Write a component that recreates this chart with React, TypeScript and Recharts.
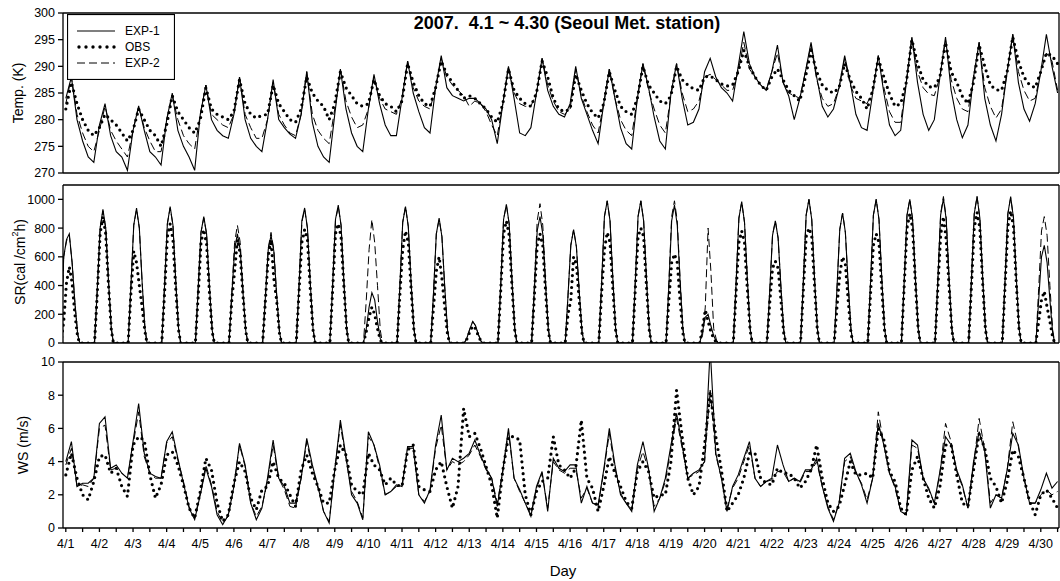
import React from "react";
import { LineChart, Line, XAxis, YAxis, ReferenceLine, Legend } from "recharts";

const FONT = '"Liberation Sans", Arial, Helvetica, sans-serif';

const DAYS = [
  "4/1", "4/2", "4/3", "4/4", "4/5", "4/6", "4/7", "4/8", "4/9", "4/10",
  "4/11", "4/12", "4/13", "4/14", "4/15", "4/16", "4/17", "4/18", "4/19", "4/20",
  "4/21", "4/22", "4/23", "4/24", "4/25", "4/26", "4/27", "4/28", "4/29", "4/30",
];
// sample hours inside each day (hours after the day label)
const DAY_HOURS = [0, 4, 8, 12, 16, 20];
const SR_HOURS = [-3.5, -1.5, 0.5, 2.5, 4.5, 6.5, 8.5, 10];

// Temperature (K)
const tempExp1 = [
  [284, 288, 280, 276, 273, 272], [279, 283, 277, 274, 273, 270.5], [278, 282.6, 278, 274, 273, 271.5],
  [280, 285, 278, 275, 273, 270.5], [281, 286.5, 280, 278, 277, 276.5], [281, 288, 280, 276.5, 275, 274],
  [280, 287.5, 280, 278.5, 277.3, 276.5], [281, 289, 279.5, 275, 273, 272], [281, 289.5, 282, 277.5, 275, 274],
  [282, 288.5, 283, 279, 277, 277], [284, 291, 285, 281.5, 278.5, 277.5], [286, 292, 286, 284.5, 284, 283.5],
  [284, 284, 283, 282, 280, 275.5], [283, 290, 284, 277.5, 277, 278.5], [285, 291.5, 285.5, 282.5, 281, 280.5],
  [283, 290, 284, 281, 278, 275.5], [283, 289.5, 284, 278.5, 275.5, 274.5], [284, 290.5, 286, 280.5, 276, 274.5],
  [285, 290.5, 284, 279, 279.5, 282], [289, 291.5, 288, 286, 285, 283.5], [290, 296.5, 290.5, 288, 286.5, 285.5],
  [289, 294, 287, 284.5, 280, 284], [289, 294.5, 288, 282.5, 280.5, 282], [286, 292, 287, 281, 278.5, 278],
  [285, 292, 285, 279, 277, 278], [287, 295.5, 287, 281, 278, 280], [288, 295.5, 285.5, 280, 276.6, 279],
  [288, 294.5, 284, 279, 276, 281], [289, 296, 287, 282, 279.7, 283], [289, 296, 290, 285],
];
const tempObs = [
  [282, 287, 283, 280, 278, 277], [278.5, 281, 280, 279, 277.5, 276], [278, 282, 280, 278, 277, 275],
  [279, 284.5, 281.5, 280, 278.5, 277.5], [280, 286, 282, 281, 280.5, 280], [281.5, 287.5, 283, 281, 280.3, 280.8],
  [281, 286.5, 283, 281.5, 280, 279.5], [282, 288, 285, 283.5, 282.5, 280], [283, 289, 286, 284.5, 283, 282.5],
  [283, 287.5, 284.5, 283, 282.5, 281.5], [283.5, 290.5, 287, 284.5, 283, 282.5], [286, 291, 288.5, 287, 285.5, 284],
  [284.5, 284, 283, 282, 280.5, 279.5], [283, 289.5, 285.5, 284, 283, 282.5], [285, 291, 288, 284, 282, 281.5],
  [282, 288.5, 285.5, 283, 281.3, 280.3], [283, 289, 285.5, 282.5, 281.5, 281], [284, 290, 286.5, 285, 283.5, 283],
  [284.5, 290, 287.5, 286.5, 285.8, 285.5], [288, 288.2, 287.5, 286.7, 286.3, 286.5], [289, 293, 290, 288, 286.5, 285.5],
  [288, 289.5, 287.5, 285.5, 284.5, 283.5], [288, 293, 289, 286.5, 285.5, 285], [286, 290.5, 287.5, 285.3, 284, 282],
  [285.5, 291.5, 288, 284.8, 282.5, 283], [287, 295, 290.5, 287.5, 286.2, 286], [288, 294.5, 289, 287, 284.4, 283],
  [287, 294, 290, 286.5, 285.6, 285.5], [289, 295.5, 291, 288, 286.5, 286], [289, 292.5, 292, 290.5],
];
const tempExp2 = [
  [283, 288, 281, 277.5, 275, 274], [278, 282.5, 278, 276, 274.5, 273], [278, 282.5, 278.5, 276, 274, 274],
  [280, 284.5, 280, 277, 275.5, 274.5], [281, 286.5, 281, 280, 279, 278.5], [281, 288, 281, 278.5, 276.5, 276.5],
  [280, 287, 281, 279, 277.5, 277], [281, 289, 281, 278, 276.5, 275.5], [282, 289.5, 283.5, 280.5, 278.5, 279],
  [282, 288, 284, 282, 281.5, 281], [284, 291, 286, 283.5, 282.5, 282], [286, 291.5, 288, 286.5, 285.5, 284.5],
  [282.5, 283.5, 283, 281.5, 279, 277], [283, 290, 285, 283, 282.5, 282.5], [285, 291.5, 286.5, 283.5, 281.5, 281],
  [282, 289.5, 284.5, 281.5, 279, 277.5], [283, 289.5, 284, 280, 278, 277], [284, 290.5, 285.5, 282, 279, 277.5],
  [284.5, 290.5, 285, 281.5, 282, 283.5], [288, 288.5, 287.5, 286.5, 285.5, 285.5], [289, 294.5, 289.5, 288, 286.5, 285.5],
  [289, 292.5, 287, 285, 284.5, 284], [289, 294, 287.5, 284, 282.5, 283], [286, 291.5, 286.5, 284, 283.5, 283],
  [285.5, 292, 286, 281.5, 279.5, 279.5], [287, 295.5, 289, 286, 284.8, 284.5], [288, 295, 287.5, 284, 282, 281.5],
  [288, 294.5, 286, 282.5, 280.3, 282], [289, 296, 289, 285.5, 283.5, 284], [289, 292.5, 291, 285.5],
];

// Solar radiation (cal/cm2h)
const srExp1 = [
  [0, 600, 720, 760, 560, 280, 60, 0], [0, 380, 800, 930, 800, 430, 100, 0], [0, 400, 820, 940, 800, 420, 100, 0],
  [0, 400, 830, 950, 820, 430, 100, 0], [0, 380, 770, 880, 760, 400, 90, 0], [0, 330, 650, 760, 650, 350, 80, 0],
  [0, 320, 650, 750, 640, 340, 80, 0], [0, 400, 850, 940, 800, 420, 100, 0], [0, 410, 860, 960, 820, 430, 100, 0],
  [0, 100, 250, 350, 300, 150, 30, 0], [0, 400, 840, 950, 810, 420, 100, 0], [0, 350, 760, 870, 740, 390, 90, 0],
  [0, 40, 100, 150, 120, 60, 10, 0], [0, 410, 860, 965, 830, 440, 100, 0], [0, 370, 780, 880, 760, 400, 90, 0],
  [0, 330, 680, 790, 670, 360, 80, 0], [0, 420, 880, 990, 850, 450, 100, 0], [0, 420, 880, 990, 850, 450, 100, 0],
  [0, 400, 850, 960, 820, 430, 100, 0], [0, 80, 180, 200, 120, 50, 10, 0], [0, 420, 870, 985, 840, 450, 100, 0],
  [0, 360, 750, 850, 730, 390, 90, 0], [0, 430, 890, 1000, 860, 450, 100, 0], [0, 380, 790, 905, 770, 410, 95, 0],
  [0, 430, 890, 1000, 860, 450, 100, 0], [0, 430, 890, 1000, 860, 450, 100, 0], [0, 430, 890, 1005, 860, 450, 100, 0],
  [0, 440, 900, 1020, 870, 460, 100, 0], [0, 440, 900, 1020, 870, 460, 100, 0], [0, 300, 600, 680, 560, 300, 70, 0],
];
const srObs = [
  [0, 150, 420, 530, 420, 200, 40, 0], [0, 350, 760, 880, 760, 400, 90, 0], [0, 350, 640, 560, 400, 250, 80, 0],
  [0, 350, 740, 830, 720, 380, 90, 0], [0, 330, 700, 790, 690, 360, 80, 0], [0, 300, 500, 720, 620, 330, 80, 0],
  [0, 300, 600, 720, 450, 300, 70, 0], [0, 360, 700, 790, 720, 380, 90, 0], [0, 370, 760, 830, 740, 400, 90, 0],
  [0, 80, 180, 250, 200, 100, 20, 0], [0, 340, 650, 780, 700, 380, 90, 0], [0, 250, 500, 600, 450, 250, 60, 0],
  [0, 30, 80, 120, 100, 50, 10, 0], [0, 370, 760, 850, 750, 400, 90, 0], [0, 330, 680, 760, 680, 360, 80, 0],
  [0, 200, 300, 600, 550, 300, 70, 0], [0, 350, 650, 770, 700, 380, 90, 0], [0, 370, 740, 800, 740, 400, 90, 0],
  [0, 300, 560, 620, 560, 300, 70, 0], [0, 100, 230, 150, 80, 30, 5, 0], [0, 360, 700, 780, 700, 380, 90, 0],
  [0, 280, 520, 570, 520, 300, 70, 0], [0, 370, 740, 800, 740, 400, 90, 0], [0, 250, 480, 600, 550, 300, 70, 0],
  [0, 350, 680, 760, 700, 380, 85, 0], [0, 400, 800, 900, 800, 420, 95, 0], [0, 380, 750, 880, 720, 400, 90, 0],
  [0, 400, 800, 910, 800, 420, 95, 0], [0, 400, 810, 920, 810, 420, 95, 0], [0, 150, 300, 360, 250, 150, 40, 0],
];
const srExp2 = [
  [0, 600, 710, 750, 560, 280, 60, 0], [0, 380, 800, 920, 800, 430, 100, 0], [0, 400, 820, 930, 800, 420, 100, 0],
  [0, 400, 830, 940, 820, 430, 100, 0], [0, 380, 770, 870, 760, 400, 90, 0], [0, 350, 700, 820, 700, 370, 85, 0],
  [0, 330, 660, 770, 650, 340, 80, 0], [0, 400, 840, 930, 800, 420, 100, 0], [0, 410, 850, 950, 820, 430, 100, 0],
  [0, 300, 650, 860, 700, 400, 90, 0], [0, 400, 840, 950, 810, 420, 100, 0], [0, 350, 760, 860, 740, 390, 90, 0],
  [0, 40, 100, 150, 120, 60, 10, 0], [0, 410, 860, 960, 830, 440, 100, 0], [0, 400, 850, 970, 820, 430, 100, 0],
  [0, 330, 680, 790, 670, 360, 80, 0], [0, 420, 880, 990, 850, 450, 100, 0], [0, 420, 880, 990, 850, 450, 100, 0],
  [0, 420, 880, 990, 850, 450, 100, 0], [0, 50, 250, 800, 500, 100, 20, 0], [0, 420, 870, 980, 840, 450, 100, 0],
  [0, 360, 750, 850, 730, 390, 90, 0], [0, 430, 890, 1000, 860, 450, 100, 0], [0, 380, 790, 905, 770, 410, 95, 0],
  [0, 430, 890, 1000, 860, 450, 100, 0], [0, 430, 890, 1000, 860, 450, 100, 0], [0, 440, 900, 1020, 870, 460, 100, 0],
  [0, 440, 900, 1020, 870, 460, 100, 0], [0, 440, 900, 1010, 870, 460, 100, 0], [0, 380, 780, 880, 750, 400, 90, 0],
];

// Wind speed (m/s)
const wsExp1 = [
  [4.0, 5.2, 2.5, 2.7, 2.7, 3.0], [6.3, 6.7, 3.6, 3.8, 3.3, 3.0], [5.2, 7.5, 4.5, 3.3, 3.1, 3.0],
  [5.2, 5.8, 4.2, 2.7, 1.2, 0.5], [2.0, 3.6, 2.5, 0.8, 0.2, 0.8], [2.5, 5.1, 3.8, 1.5, 0.5, 1.2],
  [3.0, 5.3, 3.0, 2.5, 1.5, 1.5], [3.0, 5.4, 3.8, 2.5, 1.0, 0.3], [3.5, 6.5, 4.3, 2.0, 1.5, 0.5],
  [5.8, 5.0, 3.8, 2.0, 2.2, 2.6], [2.5, 4.9, 4.9, 2.0, 1.5, 2.3], [5.0, 6.8, 3.5, 4.2, 4.0, 4.2],
  [4.5, 5.3, 4.4, 3.6, 3.0, 1.3], [3.5, 6.0, 3.0, 2.3, 1.5, 0.7], [2.5, 3.4, 1.0, 4.2, 3.6, 3.4],
  [3.8, 3.8, 1.5, 2.5, 1.5, 1.4], [3.5, 6.0, 3.8, 2.0, 1.5, 1.0], [3.8, 5.2, 3.6, 1.0, 1.8, 3.0],
  [5.0, 6.9, 5.0, 3.0, 3.3, 3.5], [4.0, 10.8, 4.5, 3.0, 1.0, 2.5], [3.2, 4.2, 5.2, 3.0, 2.5, 2.8],
  [3.0, 5.0, 3.8, 2.8, 3.0, 2.8], [3.5, 3.5, 4.2, 2.5, 1.2, 0.4], [1.5, 4.2, 4.5, 3.4, 2.6, 1.5],
  [3.0, 6.3, 5.0, 3.3, 2.5, 1.0], [0.8, 5.3, 5.0, 3.0, 2.4, 1.5], [3.4, 5.5, 5.0, 3.5, 2.6, 1.2],
  [4.0, 5.8, 4.6, 1.2, 2.0, 1.8], [3.5, 5.7, 5.0, 3.0, 1.5, 1.5], [2.3, 3.3, 2.4, 2.8],
];
const wsObs = [
  [3.2, 4.5, 3.0, 2.0, 1.7, 2.8], [4.3, 4.4, 3.3, 3.6, 2.5, 1.9], [5.0, 5.5, 5.3, 3.2, 1.8, 2.6],
  [4.4, 4.6, 3.8, 2.6, 1.2, 0.6], [2.2, 4.2, 3.5, 1.5, 0.4, 0.8], [2.7, 4.0, 3.4, 1.8, 1.1, 2.3],
  [2.5, 4.0, 3.0, 2.7, 2.0, 1.3], [3.5, 4.4, 3.3, 2.5, 1.5, 1.5], [3.5, 5.0, 4.4, 2.6, 2.2, 2.0],
  [4.5, 3.8, 3.5, 2.6, 3.0, 2.6], [2.5, 4.7, 5.0, 2.5, 2.3, 2.2], [3.5, 4.0, 2.5, 1.2, 2.5, 7.2],
  [5.5, 5.7, 4.8, 3.7, 2.6, 0.6], [3.5, 5.5, 5.5, 5.3, 2.0, 0.8], [2.2, 2.8, 3.0, 5.5, 3.8, 3.5],
  [3.0, 3.6, 6.5, 3.0, 2.4, 1.0], [2.5, 4.3, 3.3, 2.5, 1.6, 1.2], [3.4, 4.0, 3.4, 1.8, 2.0, 2.0],
  [4.0, 8.3, 5.5, 3.0, 2.0, 2.5], [5.0, 8.2, 5.5, 3.5, 1.0, 1.5], [2.0, 3.0, 4.5, 4.5, 3.0, 2.7],
  [2.6, 3.6, 3.3, 3.3, 3.0, 2.4], [2.8, 3.5, 5.0, 3.0, 1.5, 1.0], [1.3, 2.6, 4.0, 3.2, 3.2, 3.3],
  [3.0, 6.0, 5.3, 3.4, 2.8, 1.2], [0.8, 3.5, 4.3, 3.0, 1.8, 1.2], [2.5, 5.0, 5.0, 3.2, 1.5, 1.3],
  [3.5, 5.7, 4.8, 3.0, 2.5, 1.5], [2.8, 4.7, 4.3, 3.0, 1.6, 0.8], [2.0, 2.3, 1.8, 1.2],
];
const wsExp2 = [
  [3.8, 4.8, 2.5, 2.6, 2.5, 3.0], [6.0, 6.2, 3.5, 3.6, 3.3, 3.0], [5.0, 7.0, 4.3, 3.3, 3.0, 3.0],
  [5.1, 5.5, 4.1, 2.8, 1.3, 0.6], [2.1, 3.8, 2.6, 1.0, 0.3, 0.7], [2.5, 5.0, 3.7, 1.5, 0.7, 1.3],
  [2.8, 5.0, 3.0, 2.3, 1.3, 1.2], [3.0, 5.2, 3.6, 2.4, 1.0, 0.4], [3.5, 6.2, 4.2, 2.2, 1.6, 0.6],
  [5.5, 5.0, 3.6, 2.0, 2.2, 2.5], [2.5, 4.8, 4.8, 2.0, 1.6, 2.2], [4.8, 6.2, 3.5, 4.0, 3.8, 4.0],
  [4.4, 5.0, 4.3, 3.5, 3.0, 1.5], [3.4, 5.8, 3.0, 2.2, 1.5, 0.8], [2.4, 3.3, 1.2, 4.0, 3.5, 3.3],
  [3.6, 3.6, 1.8, 2.4, 1.5, 1.3], [3.4, 5.7, 3.6, 2.1, 1.5, 1.1], [3.6, 4.6, 3.5, 1.3, 1.8, 2.8],
  [4.8, 6.6, 4.8, 3.0, 3.2, 3.4], [4.0, 8.3, 4.4, 3.0, 1.2, 2.4], [3.0, 4.0, 5.0, 3.0, 2.5, 2.8],
  [2.9, 3.4, 3.4, 2.8, 3.0, 2.7], [3.4, 3.4, 4.0, 2.5, 1.3, 0.5], [1.5, 4.0, 4.3, 3.3, 2.7, 1.7],
  [3.0, 7.0, 5.0, 3.3, 2.4, 1.0], [0.8, 5.0, 4.8, 3.0, 2.3, 1.5], [3.3, 6.3, 5.2, 3.4, 2.5, 1.2],
  [3.8, 6.6, 4.7, 1.5, 2.0, 1.8], [3.5, 6.4, 4.9, 3.0, 1.5, 1.5], [2.0, 2.3, 2.0, 2.2],
];

const X_DOMAIN: [number, number] = [-2, 709];
const X_TICKS = DAYS.flatMap((_, d) => [d * 24, d * 24 + 12]);

type Row = { h: number; exp1: number; obs: number; exp2: number };

const buildRows = (hours: number[], a: number[][], b: number[][], c: number[][]): Row[] => {
  const rows: Row[] = [];
  a.forEach((day, d) => {
    day.forEach((v, i) => {
      rows.push({ h: d * 24 + hours[i], exp1: v, obs: b[d][i], exp2: c[d][i] });
    });
  });
  return rows;
};

const tempRows = buildRows(DAY_HOURS, tempExp1, tempObs, tempExp2);
const srRows = buildRows(SR_HOURS, srExp1, srObs, srExp2);
const wsRows = buildRows(DAY_HOURS, wsExp1, wsObs, wsExp2);

const dayLabel = (h: number) => (h % 24 === 0 ? DAYS[h / 24] : "");

const tickStyle = { fontSize: 12.5, fill: "#000", fontFamily: FONT };

const LegendBox = () => (
  <svg width={108} height={66} style={{ display: "block" }}>
    <rect x={0.5} y={0.5} width={107} height={65} fill="#fff" stroke="#000" strokeWidth={1.2} />
    <line x1={10} x2={48} y1={17} y2={17} stroke="#000" strokeWidth={1.1} />
    <line x1={12} x2={48} y1={33} y2={33} stroke="#000" strokeWidth={3.4} strokeDasharray="0 7" strokeLinecap="round" />
    <line x1={10} x2={48} y1={49} y2={49} stroke="#000" strokeWidth={1} strokeDasharray="8 4" />
    <g fontFamily={FONT} fontSize={12} fill="#000">
      <text x={58} y={21}>EXP-1</text>
      <text x={58} y={37}>OBS</text>
      <text x={58} y={53}>EXP-2</text>
    </g>
  </svg>
);

interface PanelProps {
  rows: Row[];
  top: number;
  height: number;
  margin: { top: number; right: number; bottom: number; left: number };
  yDomain: [number, number];
  yTicks: number[];
  xAxisHeight: number;
  showDays?: boolean;
  legend?: boolean;
}

const Panel: React.FC<PanelProps> = ({ rows, top, height, margin, yDomain, yTicks, xAxisHeight, showDays, legend }) => (
  <div style={{ position: "absolute", left: 0, top }}>
    <LineChart width={1060} height={height} data={rows} margin={margin}>
      <XAxis
        dataKey="h"
        type="number"
        domain={X_DOMAIN}
        allowDataOverflow
        ticks={X_TICKS}
        interval={0}
        tickFormatter={dayLabel}
        tick={showDays ? tickStyle : false}
        tickSize={4}
        tickMargin={7}
        height={xAxisHeight}
        stroke="#000"
        strokeWidth={1.3}
      />
      <YAxis
        type="number"
        domain={yDomain}
        ticks={yTicks}
        allowDataOverflow
        interval={0}
        width={50}
        tick={tickStyle}
        tickSize={5}
        tickMargin={3}
        stroke="#000"
        strokeWidth={1.3}
      />
      <ReferenceLine y={yDomain[1]} stroke="#000" strokeWidth={1.3} />
      <ReferenceLine x={X_DOMAIN[1]} stroke="#000" strokeWidth={1.3} />
      <Line
        dataKey="obs"
        type="linear"
        stroke="#000"
        strokeWidth={3.2}
        strokeDasharray="0 6"
        strokeLinecap="round"
        dot={false}
        isAnimationActive={false}
      />
      <Line
        dataKey="exp2"
        type="linear"
        stroke="#000"
        strokeWidth={1}
        strokeDasharray="8 4"
        dot={false}
        isAnimationActive={false}
      />
      <Line dataKey="exp1" type="linear" stroke="#000" strokeWidth={1.1} dot={false} isAnimationActive={false} />
      {legend && (
        <Legend
          layout="vertical"
          align="center"
          verticalAlign="middle"
          content={() => <LegendBox />}
          wrapperStyle={{ left: 67, top: 14, width: 108, height: 66 }}
        />
      )}
    </LineChart>
  </div>
);

export default function App() {
  return (
    <div
      style={{
        position: "absolute",
        left: 0,
        top: 0,
        width: 1060,
        height: 581,
        background: "#fff",
        fontFamily: FONT,
        overflow: "hidden",
      }}
    >
      <Panel
        rows={tempRows}
        top={0}
        height={183}
        margin={{ top: 13, right: 1, bottom: 0, left: 13 }}
        yDomain={[270, 300]}
        yTicks={[270, 275, 280, 285, 290, 295, 300]}
        xAxisHeight={10}
        legend
      />
      <Panel
        rows={srRows}
        top={183}
        height={172}
        margin={{ top: 2, right: 1, bottom: 2, left: 13 }}
        yDomain={[0, 1100]}
        yTicks={[0, 200, 400, 600, 800, 1000]}
        xAxisHeight={10}
      />
      <Panel
        rows={wsRows}
        top={355}
        height={203}
        margin={{ top: 7, right: 1, bottom: 0, left: 13 }}
        yDomain={[0, 10]}
        yTicks={[0, 2, 4, 6, 8, 10]}
        xAxisHeight={30}
        showDays
      />
      <svg
        width={1060}
        height={581}
        style={{ position: "absolute", left: 0, top: 0, pointerEvents: "none" }}
        fontFamily={FONT}
        fill="#000"
      >
        <text x={567} y={29} fontSize={18} fontWeight="bold" textAnchor="middle" style={{ whiteSpace: "pre" }}>
          {"2007.  4.1 ~ 4.30 (Seoul Met. station)"}
        </text>
        <text x={18} y={93} fontSize={14} textAnchor="middle" dominantBaseline="central" transform="rotate(-90 18 93)">
          Temp. (K)
        </text>
        <text x={20} y={262} fontSize={14} textAnchor="middle" dominantBaseline="central" transform="rotate(-90 20 262)">
          SR(cal /cm
          <tspan fontSize={9} dy={-5}>2</tspan>
          <tspan dy={5}>h)</tspan>
        </text>
        <text x={23} y={445} fontSize={14} textAnchor="middle" dominantBaseline="central" transform="rotate(-90 23 445)">
          WS (m/s)
        </text>
        <text x={563} y={576} fontSize={15} textAnchor="middle">
          Day
        </text>
      </svg>
    </div>
  );
}
